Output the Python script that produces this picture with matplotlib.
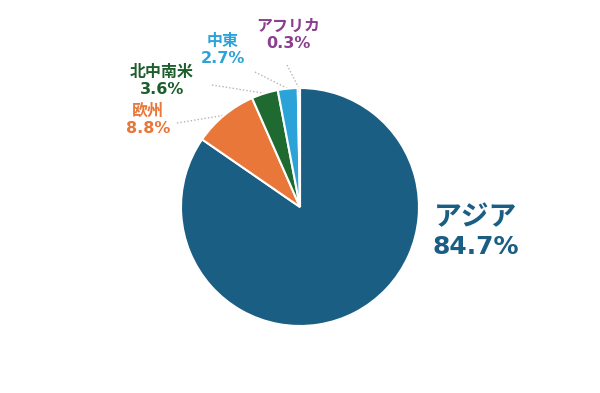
import numpy as np
import matplotlib.pyplot as plt

plt.rcParams['font.family'] = ['DejaVu Sans', 'Noto Sans CJK JP']

# shares by region (%)
regions = ['アジア', '欧州', '北中南米', '中東', 'アフリカ']
shares = [84.7, 8.8, 3.6, 2.7, 0.3]
colors = ['#1b5e84', '#e9773a', '#1e6a31', '#2ca3d8', '#8e4a94']
text_colors = ['#1b5e84', '#e9773a', '#1e5e2c', '#2ca3d8', '#8a3f8f']

fig = plt.figure(figsize=(6, 3.93), dpi=100)
ax = fig.add_axes([0, 0, 1, 1])

cx, cy, r = 300, 186, 119
wedges, _ = ax.pie(shares, colors=colors, startangle=90, counterclock=False,
                   center=(cx, cy), radius=r, frame=True,
                   wedgeprops=dict(edgecolor='white', linewidth=1.5))
ax.set_xlim(0, 600)
ax.set_ylim(0, 393)
ax.axis('off')

# label positions (pixels from top-left) and leader line starts
label_pos = [(476, 232), (148, 120), (162, 81), (223, 50), (288, 35)]
line_start = [None, (177, 123), (212, 85), (255, 72), (287, 65)]

for i, w in enumerate(wedges):
    lx, ly = label_pos[i]
    if i == 0:
        ax.text(lx - 1, 393 - (ly - 15), regions[i], ha='center', va='center',
                color=text_colors[i], fontsize=20, fontweight='bold')
        ax.text(lx, 393 - (ly + 15), f'{shares[i]}%', ha='center', va='center',
                color=text_colors[i], fontsize=18, fontweight='bold')
    else:
        ax.text(lx, 393 - ly, f'{regions[i]}\n{shares[i]}%',
                ha='center', va='center', color=text_colors[i],
                fontsize=11.5, fontweight='bold', linespacing=1.2)
    if line_start[i] is not None:
        mid = np.deg2rad((w.theta1 + w.theta2) / 2)
        ex, ey = cx + r * np.cos(mid), cy + r * np.sin(mid)
        sx, sy = line_start[i]
        ax.plot([sx, ex], [393 - sy, ey], linestyle=(0, (1, 1.5)),
                color='#b5b5b5', linewidth=1, zorder=0)

fig.savefig('out.png', dpi=100)
